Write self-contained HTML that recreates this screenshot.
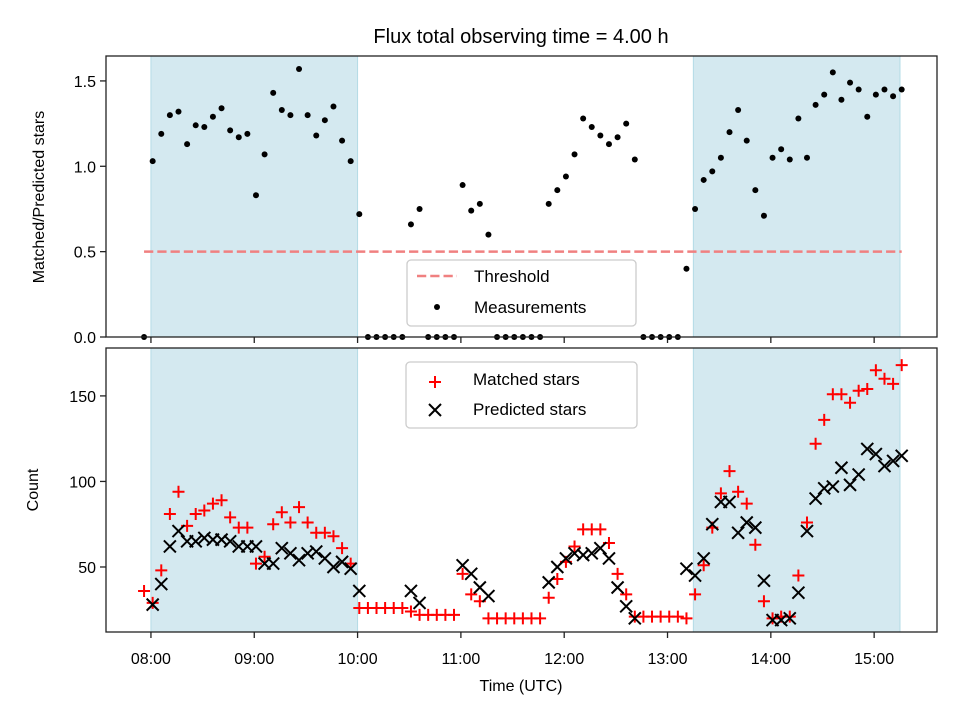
<!DOCTYPE html>
<html><head><meta charset="utf-8"><style>
html,body{margin:0;padding:0;background:#fff}
svg{display:block}
text{font-family:"Liberation Sans","DejaVu Sans",sans-serif;fill:#000}
</style></head><body>
<svg id="chart" width="960" height="720" viewBox="0 0 960 720" xmlns="http://www.w3.org/2000/svg">
<text x="521" y="43" font-size="20" text-anchor="middle">Flux total observing time = 4.00 h</text>
<g id="topPanel"></g>
<g id="botPanel"></g>
</svg>
<script>
// minutes since 08:00 UTC
const times = [-4,1,6,11,16,21,26,31,36,41,46,51,56,61,66,71,76,81,86,91,96,101,106,111,116,121,126,131,136,141,146,151,156,161,166,171,176,181,186,191,196,201,206,211,216,221,226,231,236,241,246,251,256,261,266,271,276,281,286,291,296,301,306,311,316,321,326,331,336,341,346,351,356,361,366,371,376,381,386,391,396,401,406,411,416,421,426,431,436];
const ratio = [0,1.03,1.19,1.30,1.32,1.13,1.24,1.23,1.29,1.34,1.21,1.17,1.19,0.83,1.07,1.43,1.33,1.30,1.57,1.30,1.18,1.27,1.35,1.15,1.03,0.72,0,0,0,0,0,0.66,0.75,0,0,0,0,0.89,0.74,0.78,0.60,0,0,0,0,0,0,0.78,0.86,0.94,1.07,1.28,1.23,1.18,1.13,1.17,1.25,1.04,0,0,0,0,0,0.40,0.75,0.92,0.97,1.05,1.20,1.33,1.15,0.86,0.71,1.05,1.10,1.04,1.28,1.05,1.36,1.42,1.55,1.39,1.49,1.45,1.29,1.42,1.45,1.41,1.45];
const matched = [36,29,48,81,94,74,81,83,87,89,79,73,73,52,56,75,82,76,85,76,70,70,68,61,52,26,26,26,26,26,26,24,22,22,22,22,22,46,34,30,20,20,20,20,20,20,20,32,43,53,62,72,72,72,64,46,34,21,21,21,21,21,21,20,34,51,73,93,106,94,87,63,30,20,21,21,45,76,122,136,151,151,146,153,154,165,160,157,168];
const predicted = [null,28,40,62,71,65,65,67,66,66,65,62,62,62,52,52,61,58,54,58,59,55,50,53,49,36,null,null,null,null,null,36,29,null,null,null,null,51,46,38,33,null,null,null,null,null,null,41,50,55,58,57,58,61,55,38,27,20,null,null,null,null,null,49,45,55,75,88,88,70,76,73,42,19,19,20,35,71,90,96,97,108,98,104,119,116,109,112,115];
const threshold = 0.5;
const shadeRanges = [[0,120],[315,435]];
const ratioTicks = [0,0.5,1.0,1.5];
const countTicks = [50,100,150];
const hourTicks = [0,60,120,180,240,300,360,420];
const hourLabels = ["08:00","09:00","10:00","11:00","12:00","13:00","14:00","15:00"];

const NS="http://www.w3.org/2000/svg";
const L=106,R=937;
const T1=56,B1=337,T2=348,B2=632;
const xmin=-26.1,xmax=456.5;
const r0=0,r1=1.646, c0=12.0,c1=178.0;
const xs=t=>L+(t-xmin)/(xmax-xmin)*(R-L);
const y1=v=>B1-(v-r0)/(r1-r0)*(B1-T1);
const y2=v=>B2-(v-c0)/(c1-c0)*(B2-T2);
function mk(tag,attrs,parent){const e=document.createElementNS(NS,tag);for(const k in attrs)e.setAttribute(k,attrs[k]);parent.appendChild(e);return e;}
const topG=document.getElementById('topPanel'),botG=document.getElementById('botPanel');

function panel(g,T,B,yf,yt,name){
  shadeRanges.forEach((s,i)=>{
    const r=mk('rect',{x:xs(s[0]),y:T,width:xs(s[1])-xs(s[0]),height:B-T,fill:'#d4e9f0',stroke:'#b4dbe6','stroke-width':1},g);
    
    
  });
  hourTicks.forEach((t,i)=>{
    const tk=mk('line',{x1:xs(t),x2:xs(t),y1:B,y2:B+6,stroke:'#222','stroke-width':1.3},g);
    
    
  });
  yt.forEach(v=>{
    const tk=mk('line',{x1:L-6,x2:L,y1:yf(v),y2:yf(v),stroke:'#222','stroke-width':1.3},g);
    
    
    const lb=mk('text',{x:L-10,y:yf(v)+6,'font-size':16,'text-anchor':'end'},g);
    lb.textContent = name==='top'? v.toFixed(1) : String(v);
    
    
  });
}
panel(topG,T1,B1,y1,ratioTicks,'top');
panel(botG,T2,B2,y2,countTicks,'bot');

const th=mk('line',{x1:xs(times[0]),x2:xs(times[times.length-1]),y1:y1(threshold),y2:y1(threshold),stroke:'#f08080','stroke-width':2.5,'stroke-dasharray':'9.25,4'},topG);


times.forEach((t,i)=>{
  const c=mk('circle',{cx:xs(t),cy:y1(ratio[i]),r:3,fill:'#000'},topG);
  
  
});
function plus(g,x,y){return mk('path',{d:`M${x-6},${y}H${x+6}M${x},${y-6}V${y+6}`,stroke:'#f00','stroke-width':2,fill:'none'},g);}
function cross(g,x,y){return mk('path',{d:`M${x-6},${y-6}L${x+6},${y+6}M${x-6},${y+6}L${x+6},${y-6}`,stroke:'#000','stroke-width':2,fill:'none'},g);}
times.forEach((t,i)=>{
  const p=plus(botG,xs(t),y2(matched[i]));
  
  
});
times.forEach((t,i)=>{
  if(predicted[i]===null)return;
  const p=cross(botG,xs(t),y2(predicted[i]));
  
  
});
[[T1,B1,'ratio-frame',topG],[T2,B2,'count-frame',botG]].forEach(f=>{
  const r=mk('rect',{x:L,y:f[0],width:R-L,height:f[1]-f[0],fill:'none',stroke:'#222','stroke-width':1.3},f[3]);
  
  
});
hourTicks.forEach((t,i)=>{
  const lb=mk('text',{x:xs(t),y:664,'font-size':16,'text-anchor':'middle'},botG);
  lb.textContent=hourLabels[i];
  
  
});
let a=mk('text',{x:521,y:691,'font-size':16,'text-anchor':'middle'},botG);
a.textContent='Time (UTC)';


a=mk('text',{x:44,y:197,'font-size':16,'text-anchor':'middle',transform:'rotate(-90 44 197)'},topG);
a.textContent='Matched/Predicted stars';


a=mk('text',{x:38,y:490,'font-size':16,'text-anchor':'middle',transform:'rotate(-90 38 490)'},botG);
a.textContent='Count';



const lg1=mk('g',{},topG);


mk('rect',{x:407,y:260,width:229,height:66,rx:4,fill:'#fff','fill-opacity':0.8,stroke:'#ccc','stroke-width':1.3},lg1);
mk('line',{x1:417,x2:457,y1:276,y2:276,stroke:'#f08080','stroke-width':2.5,'stroke-dasharray':'9.25,4'},lg1);
mk('circle',{cx:437,cy:307,r:3,fill:'#000'},lg1);
let t=mk('text',{x:474,y:282,'font-size':17},lg1);t.textContent='Threshold';


t=mk('text',{x:474,y:313,'font-size':17},lg1);t.textContent='Measurements';



const lg2=mk('g',{},botG);


mk('rect',{x:406,y:362,width:231,height:66,rx:4,fill:'#fff','fill-opacity':0.8,stroke:'#ccc','stroke-width':1.3},lg2);
plus(lg2,435,382);
cross(lg2,435,410);
t=mk('text',{x:473,y:385,'font-size':17},lg2);t.textContent='Matched stars';


t=mk('text',{x:473,y:415,'font-size':17},lg2);t.textContent='Predicted stars';


</script>
</body></html>
